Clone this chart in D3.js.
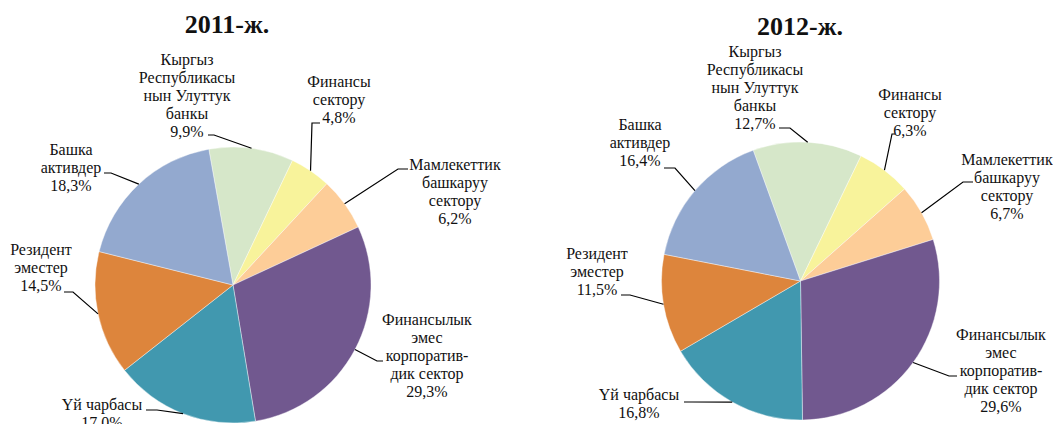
<!DOCTYPE html>
<html>
<head>
<meta charset="utf-8">
<script src="https://cdn.jsdelivr.net/npm/d3@7"></script>
<style>
  body { margin: 0; background: #fff; }
  svg { display: block; }
</style>
</head>
<body>
<svg width="1053" height="424"></svg>
<script>
var width = 1053;
var height = 424;

// slice order goes clockwise, starting from the national bank slice
var categories = [
  ["Кыргыз", "Республикасы", "нын Улуттук", "банкы"],
  ["Финансы", "сектору"],
  ["Мамлекеттик", "башкаруу", "сектору"],
  ["Финансылык", "эмес", "корпоратив-", "дик сектор"],
  ["Үй чарбасы"],
  ["Резидент", "эместер"],
  ["Башка", "активдер"]
];
var colors = ["#d6e7c9", "#f8f39b", "#fdcd98", "#71588f", "#4198af", "#dd853c", "#93a9cf"];

var years = ["2011-ж.", "2012-ж."];
var values2011 = [9.9, 4.8, 6.2, 29.3, 17.0, 14.5, 18.3];
var values2012 = [12.7, 6.3, 6.7, 29.6, 16.8, 11.5, 16.4];

// label layout: text centre x, first baseline y, leader attach point (ax, ay) and knee x (kx)
var layout2011 = [
  {x: 187, y: 65,  ax: 208, ay: 135, kx: 214},
  {x: 339, y: 87,  ax: 320, ay: 123, kx: 312},
  {x: 455, y: 170, ax: 408, ay: 169, kx: 398},
  {x: 427, y: 325, ax: 383, ay: 361, kx: 377},
  {x: 102, y: 410, ax: 146, ay: 410, kx: 157},
  {x: 41,  y: 255, ax: 64,  ay: 292, kx: 73},
  {x: 71,  y: 155, ax: 104, ay: 173, kx: 111}
];
var layout2012 = [
  {x: 755,  y: 57,  ax: 779, ay: 128, kx: 790},
  {x: 910,  y: 100, ax: 895, ay: 134, kx: 892},
  {x: 1007, y: 165, ax: 973, ay: 182, kx: 963},
  {x: 1001, y: 340, ax: 957, ay: 376, kx: 949},
  {x: 639,  y: 400, ax: 684, ay: 402, kx: 692},
  {x: 597,  y: 259, ax: 621, ay: 295, kx: 630},
  {x: 640,  y: 130, ax: 664, ay: 168, kx: 675}
];

var charts = [
  {title: years[0], values: values2011, layout: layout2011, cx: 233, cy: 285, r: 138, start: -10.1, tx: 227, ty: 33},
  {title: years[1], values: values2012, layout: layout2012, cx: 800.5, cy: 281, r: 139, start: -19.9, tx: 800, ty: 35}
];

var lineH = 18;
var fmt = function(v) { return d3.format(".1f")(v).replace(".", ",") + "%"; };
var rad = function(deg) { return deg * Math.PI / 180; };

var svg = d3.select("svg")
  .attr("viewBox", [0, 0, width, height]);

charts.forEach(function(c) {
  var pie = d3.pie()
    .sort(null)
    .value(function(d) { return d; })
    .startAngle(rad(c.start))
    .endAngle(rad(c.start + 360));

  var arcs = pie(c.values);

  var arc = d3.arc().innerRadius(0).outerRadius(c.r);
  var edge = d3.arc().innerRadius(c.r).outerRadius(c.r);

  var g = svg.append("g")
    .attr("transform", "translate(" + c.cx + "," + c.cy + ")");

  g.selectAll("path")
    .data(arcs)
    .join("path")
    .attr("d", arc)
    .attr("fill", function(d, i) { return colors[i]; })
    .attr("stroke", "#fff")
    .attr("stroke-width", 0.4);

  // title
  svg.append("text")
    .attr("x", c.tx)
    .attr("y", c.ty)
    .attr("text-anchor", "middle")
    .style("font-family", "'Liberation Serif', 'Times New Roman', serif")
    .style("font-weight", "bold")
    .style("font-size", "26px")
    .attr("fill", "#111")
    .text(c.title);

  // leader lines
  svg.selectAll(null)
    .data(arcs)
    .join("polyline")
    .attr("points", function(d, i) {
      var p = edge.centroid(d);
      var L = c.layout[i];
      return [[c.cx + p[0], c.cy + p[1]], [L.kx, L.ay], [L.ax, L.ay]].join(" ");
    })
    .attr("fill", "none")
    .attr("stroke", "#000")
    .attr("stroke-width", 1.2);

  // labels
  var lab = svg.selectAll(null)
    .data(arcs)
    .join("text")
    .attr("text-anchor", "middle")
    .style("font-family", "'Liberation Serif', 'Times New Roman', serif")
    .style("font-size", "16px")
    .attr("fill", "#111");

  lab.each(function(d, i) {
    var L = c.layout[i];
    var lines = categories[i].concat([fmt(d.data)]);
    d3.select(this).selectAll("tspan")
      .data(lines)
      .join("tspan")
      .attr("x", L.x)
      .attr("y", function(t, j) { return L.y + j * lineH; })
      .text(function(t) { return t; });
  });
});
</script>
</body>
</html>
